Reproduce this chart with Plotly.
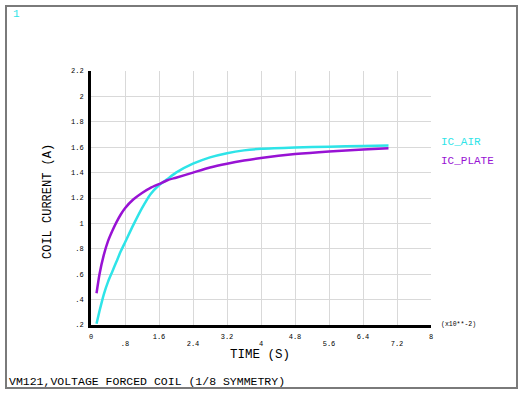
import plotly.graph_objects as go

# ---- data (time in units of 1e-2 s) ----
time = [0.13, 0.2, 0.3, 0.4, 0.5, 0.6, 0.7, 0.8, 1.0, 1.2, 1.4, 1.6, 1.8, 2.0,
        2.4, 2.8, 3.2, 3.6, 4.0, 4.8, 5.6, 6.4, 7.0]
ic_air = [0.21, 0.31, 0.44, 0.54, 0.62, 0.70, 0.78, 0.85, 0.99, 1.12, 1.23, 1.30,
          1.35, 1.40, 1.47, 1.52, 1.553, 1.575, 1.587, 1.598, 1.604, 1.609, 1.613]
ic_plate = [0.45, 0.60, 0.75, 0.86, 0.94, 1.01, 1.07, 1.12, 1.19, 1.24, 1.28, 1.31,
            1.34, 1.36, 1.40, 1.44, 1.47, 1.495, 1.515, 1.546, 1.567, 1.582, 1.592]
series_names = ["IC_AIR", "IC_PLATE"]
x_tickvals_upper = [0, 1.6, 3.2, 4.8, 6.4, 8.0]
x_ticktext_upper = ["0", "1.6", "3.2", "4.8", "6.4", "8"]
x_tickvals_lower = [0.8, 2.4, 4.0, 5.6, 7.2]
x_ticktext_lower = [".8", "2.4", "4", "5.6", "7.2"]
y_tickvals = [0.2, 0.4, 0.6, 0.8, 1.0, 1.2, 1.4, 1.6, 1.8, 2.0, 2.2]
y_ticktext = [".2", ".4", ".6", ".8", "1", "1.2", "1.4", "1.6", "1.8", "2", "2.2"]

CYAN = "#2ee4e8"
PURPLE = "#9812d4"
MONO = "Liberation Mono, Courier New, monospace"

W, H = 524, 396
L, R, T, B = 91, 431, 71, 325


def px(x):
    return (x - L) / (R - L)


def py(y):
    return (B - y) / (B - T)


fig = go.Figure()
fig.add_trace(go.Scatter(x=time, y=ic_air, mode="lines", name=series_names[0],
                         line=dict(color=CYAN, width=2.5, shape="spline", smoothing=0.6)))
fig.add_trace(go.Scatter(x=time, y=ic_plate, mode="lines", name=series_names[1],
                         line=dict(color=PURPLE, width=2.5, shape="spline", smoothing=0.6)))

fig.update_layout(
    width=W, height=H,
    margin=dict(l=L, r=W - R, t=T, b=H - B, pad=0),
    paper_bgcolor="white", plot_bgcolor="white",
    showlegend=False,
    font=dict(family=MONO, color="black"),
    xaxis=dict(range=[0, 8], tickvals=x_tickvals_upper, ticktext=x_ticktext_upper,
               showgrid=False, showline=True, linecolor="black", linewidth=3,
               zeroline=False, ticks="", ticklabelstandoff=3,
               tickfont=dict(family=MONO, size=7, color="black")),
    xaxis2=dict(range=[0, 8], overlaying="x", side="bottom", anchor="y",
                tickvals=x_tickvals_lower + x_tickvals_upper,
                ticktext=x_ticktext_lower + [""] * len(x_tickvals_upper),
                showgrid=True, gridcolor="#d9d9d9", gridwidth=1,
                showline=False, zeroline=False, ticks="", ticklabelstandoff=13,
                tickfont=dict(family=MONO, size=7, color="black"), layer="below traces"),
    yaxis=dict(range=[0.2, 2.2], tickvals=y_tickvals, ticktext=y_ticktext,
               showgrid=True, gridcolor="#d9d9d9", gridwidth=1,
               showline=True, linecolor="black", linewidth=3,
               zeroline=False, ticks="", ticklabelstandoff=3,
               tickfont=dict(family=MONO, size=7, color="black")),
)
# invisible helper trace so the second x axis is drawn
fig.add_trace(go.Scatter(x=[None], y=[None], xaxis="x2", yaxis="y",
                         showlegend=False, hoverinfo="skip"))

ann = [
    dict(text="TIME (S)", x=px(260), y=py(355), xanchor="center", yanchor="middle",
         font=dict(family=MONO, size=12.5, color="black")),
    dict(text="COIL CURRENT (A)", x=px(48), y=py(202), xanchor="center", yanchor="middle",
         textangle=-90, font=dict(family=MONO, size=12, color="black")),
    dict(text=series_names[0], x=px(439), y=py(142), xanchor="left", yanchor="middle",
         font=dict(family=MONO, size=11, color=CYAN)),
    dict(text=series_names[1], x=px(439), y=py(161), xanchor="left", yanchor="middle",
         font=dict(family=MONO, size=11, color=PURPLE)),
    dict(text="(x10**-2)", x=px(439), y=py(324), xanchor="left", yanchor="middle",
         font=dict(family=MONO, size=6.5, color="black")),
    dict(text="1", x=px(11), y=py(14), xanchor="left", yanchor="middle",
         font=dict(family=MONO, size=11, color=CYAN)),
    dict(text="VM121,VOLTAGE FORCED COIL (1/8 SYMMETRY)", x=px(7), y=py(381),
         xanchor="left", yanchor="middle",
         font=dict(family=MONO, size=11.5, color="black")),
]
for a in ann:
    a.update(xref="paper", yref="paper", showarrow=False)
fig.update_layout(annotations=ann)

fig.add_shape(type="rect", xref="paper", yref="paper",
              x0=px(6), x1=px(517), y0=py(388), y1=py(6),
              line=dict(color="#7a7a7a", width=2), fillcolor="rgba(0,0,0,0)", layer="above")

fig.write_html("out.html", config={"displayModeBar": False},
               post_script="document.body.style.margin='0';")
